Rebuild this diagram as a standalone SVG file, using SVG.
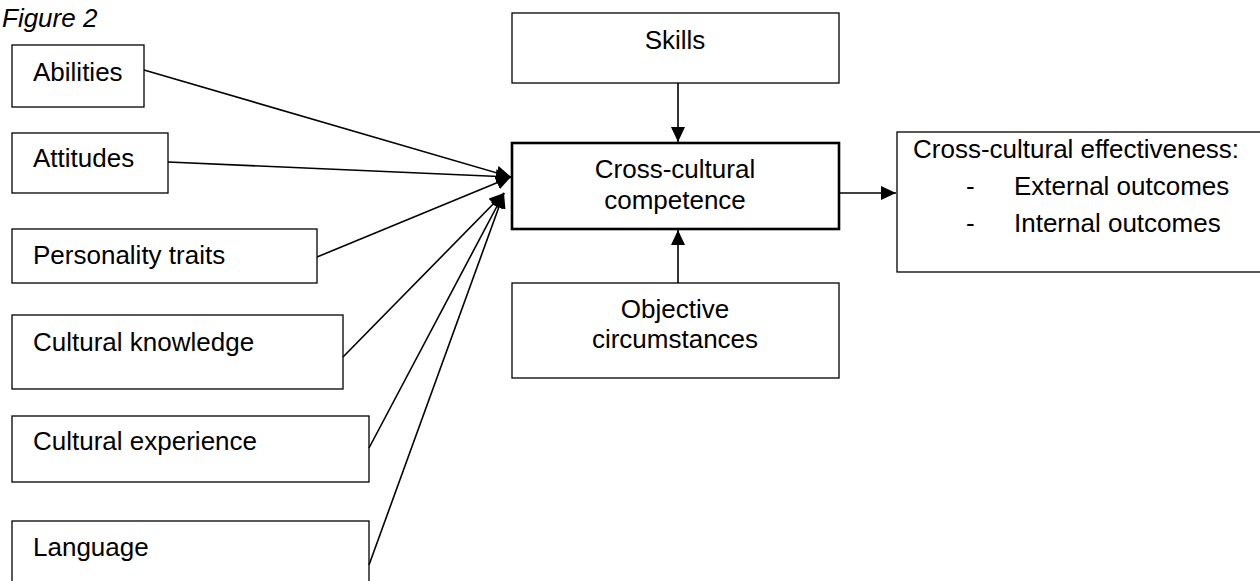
<svg xmlns="http://www.w3.org/2000/svg" width="1260" height="581" viewBox="0 0 1260 581">
  <style>
    text { font-family: "Liberation Sans", Arial, sans-serif; font-size: 26px; fill: #000; }
    .box { fill: #fff; stroke: #000; stroke-width: 1.3; }
    .core { fill: #fff; stroke: #000; stroke-width: 2.6; }
    .link { fill: none; stroke: #000; stroke-width: 1.6; marker-end: url(#head); }
    .mid { text-anchor: middle; }
  </style>
  <defs>
    <marker id="head" markerUnits="userSpaceOnUse" markerWidth="16" markerHeight="14" refX="15" refY="7" orient="auto">
      <path d="M0,0 L15,7 L0,14 Z" fill="#000"/>
    </marker>
  </defs>

  <rect width="1260" height="581" fill="#fff"/>

  <text x="2" y="27" font-style="italic">Figure 2</text>

  <!-- antecedent factors -->
  <g id="abilities">
    <rect class="box" x="12" y="45" width="132" height="62"/>
    <text x="33" y="81">Abilities</text>
  </g>
  <g id="attitudes">
    <rect class="box" x="12" y="133" width="156" height="60"/>
    <text x="33" y="167">Attitudes</text>
  </g>
  <g id="personality">
    <rect class="box" x="12" y="229" width="305" height="54"/>
    <text x="33" y="264">Personality traits</text>
  </g>
  <g id="knowledge">
    <rect class="box" x="12" y="315" width="331" height="74"/>
    <text x="33" y="351">Cultural knowledge</text>
  </g>
  <g id="experience">
    <rect class="box" x="12" y="416" width="357" height="66"/>
    <text x="33" y="450">Cultural experience</text>
  </g>
  <g id="language">
    <rect class="box" x="12" y="521" width="357" height="70"/>
    <text x="33" y="556">Language</text>
  </g>

  <!-- central column -->
  <g id="skills">
    <rect class="box" x="512" y="13" width="327" height="70"/>
    <text class="mid" x="675" y="49">Skills</text>
  </g>
  <g id="competence">
    <rect class="core" x="512" y="143" width="327" height="86"/>
    <text class="mid" x="675" y="178">Cross-cultural</text>
    <text class="mid" x="675" y="209">competence</text>
  </g>
  <g id="circumstances">
    <rect class="box" x="512" y="283" width="327" height="95"/>
    <text class="mid" x="675" y="318">Objective</text>
    <text class="mid" x="675" y="348">circumstances</text>
  </g>

  <!-- outcome -->
  <g id="effectiveness">
    <rect class="box" x="897" y="132" width="380" height="140"/>
    <text x="913" y="158" font-size="27">Cross-cultural effectiveness:</text>
    <text x="966" y="195">-</text>
    <text x="1014" y="195">External outcomes</text>
    <text x="966" y="232">-</text>
    <text x="1014" y="232">Internal outcomes</text>
  </g>

  <!-- connectors -->
  <g id="connectors">
    <line class="link" x1="144" y1="70" x2="511" y2="177"/>
    <line class="link" x1="168" y1="162" x2="511" y2="177"/>
    <line class="link" x1="317" y1="257" x2="511" y2="177"/>
    <line class="link" x1="343" y1="357" x2="504" y2="193"/>
    <line class="link" x1="369" y1="448" x2="504" y2="193"/>
    <line class="link" x1="369" y1="565" x2="504" y2="193"/>
    <line class="link" x1="678" y1="83" x2="678" y2="142"/>
    <line class="link" x1="678" y1="283" x2="678" y2="230"/>
    <line class="link" x1="839" y1="193" x2="896" y2="193"/>
  </g>
</svg>
